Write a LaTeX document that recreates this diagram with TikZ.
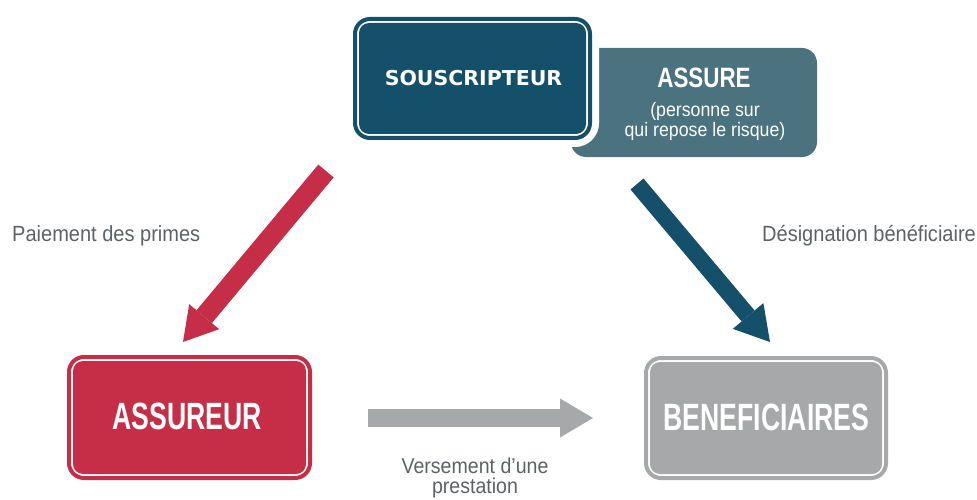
\documentclass[tikz,border=0pt]{standalone}
\usepackage{fontspec}
\setmainfont{Liberation Sans}
\newfontfamily\boxcond[FakeStretch=0.70]{Liberation Sans}
\newfontfamily\subcond[FakeStretch=0.80]{Liberation Sans}
\newfontfamily\labcond[FakeStretch=0.91]{Liberation Sans}
\newfontfamily\verd{DejaVu Sans}
\usetikzlibrary{arrows.meta}
\definecolor{cred}{HTML}{C62D46}
\definecolor{cblue}{HTML}{15506A}
\definecolor{cteal}{HTML}{4A727F}
\definecolor{cgray}{HTML}{A7A8AA}
\definecolor{ctext}{HTML}{5D6266}
\begin{document}
\begin{tikzpicture}[x=1pt,y=-1pt,
  framebox/.style={draw=#1, line width=4pt, fill=white, rounded corners=15pt, inner sep=0pt},
  boxtext/.style={text=white, inner sep=0pt, font=\boxcond\bfseries\fontsize{38}{40}\selectfont},
  lab/.style={text=ctext, inner sep=0pt, font=\labcond\fontsize{22}{24}\selectfont},
  flow/.style={line width=#1, -{Triangle[length=33pt,width=39pt,line width=0pt]}}
]
\useasboundingbox (0,0) rectangle (977,500);

% ASSURE box (behind)
\node[fill=cteal, rounded corners=15pt, minimum width=246pt, minimum height=109pt, inner sep=0pt] (assure) at (694,102.5) {};
\node[text=white, inner sep=0pt, anchor=base, font=\subcond\bfseries\fontsize{28}{30}\selectfont] (assuretitle) at (704,88) {ASSURE};
\node[text=white, inner sep=0pt, anchor=north, align=center, font=\labcond\fontsize{19.5}{20}\selectfont] (assuresub) at (705,102) {(personne sur\\qui repose le risque)};

% SOUSCRIPTEUR box
\node[framebox=cblue, preaction={draw=white, line width=18pt}, minimum width=235pt, minimum height=119pt] (sousc) at (472.5,78.5) {};
\fill[cblue, rounded corners=10pt] ([shift={(6pt,-6pt)}]sousc.north west) rectangle ([shift={(-6pt,6pt)}]sousc.south east);
\node[text=white, inner sep=0pt, font=\verd\bfseries\fontsize{20.5}{22}\selectfont] (souscl) at (473.5,78.5) {SOUSCRIPTEUR};

% ASSUREUR box
\node[framebox=cred, minimum width=241pt, minimum height=121pt] (assureur) at (189.5,417.5) {};
\fill[cred, rounded corners=10pt] ([shift={(6pt,-6pt)}]assureur.north west) rectangle ([shift={(-6pt,6pt)}]assureur.south east);
\node[boxtext] (assureurl) at (187,416.5) {ASSUREUR};

% BENEFICIAIRES box
\node[framebox=cgray, minimum width=240pt, minimum height=120pt] (benef) at (766,418) {};
\fill[cgray, rounded corners=10pt] ([shift={(6pt,-6pt)}]benef.north west) rectangle ([shift={(-6pt,6pt)}]benef.south east);
\node[boxtext] (benefl) at (766.5,417) {BENEFICIAIRES};

% arrows
\coordinate (redtail) at (326,171);
\coordinate (redtip) at (183,342);
\coordinate (bluetail) at (637,184);
\coordinate (bluetip) at (770,342);
\coordinate (graytail) at (368,418);
\coordinate (graytip) at (593,418);
\draw[cred, flow=20pt] (redtail) -- (redtip);
\draw[cblue, line width=17pt, -{Triangle[length=34pt,width=40pt,line width=0pt]}] (bluetail) -- (bluetip);
\draw[cgray, flow=18pt] (graytail) -- (graytip);

% labels
\node[lab, anchor=base west] (paiement) at (12,241) {Paiement des primes};
\node[lab, anchor=base west] (designation) at (762,241) {Désignation bénéficiaire};
\node[lab, anchor=north, align=center, font=\labcond\fontsize{21.5}{20}\selectfont] (versement) at (475,458) {Versement d’une\\prestation};
\end{tikzpicture}
\end{document}
